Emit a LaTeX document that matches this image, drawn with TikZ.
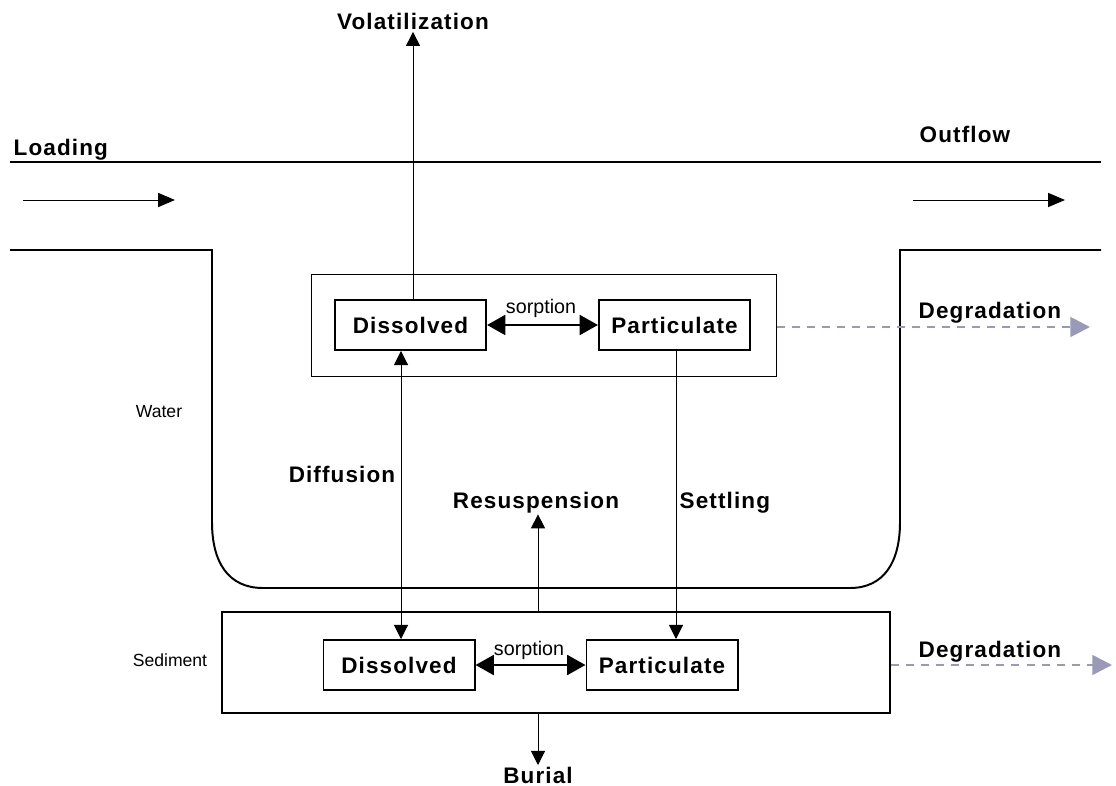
\documentclass[tikz,border=0pt]{standalone}
\usepackage{fontspec}
\setmainfont{Liberation Sans}
\newfontfamily\labelfont{Liberation Sans}[LetterSpace=5]
\usepackage{tikz}
\usetikzlibrary{arrows.meta}
\usepackage{xcolor}
\definecolor{deggray}{HTML}{9A9AB8}

\begin{document}
\begin{tikzpicture}[x=0.025cm, y=-0.025cm,
    every node/.style={inner sep=1pt},
    lbl/.style={font=\labelfont\bfseries\fontsize{16}{19}\selectfont},
    small/.style={font=\fontsize{12.5}{15}\selectfont},
    comp/.style={draw, line width=1.4pt, minimum width=3.775cm, minimum height=1.25cm, inner sep=0pt, lbl},
    flux/.style={line width=0.7pt, -{Triangle[length=10pt, width=10pt]}},
    sorp/.style={line width=2pt, {Triangle[length=13pt, width=14pt]}-{Triangle[length=13pt, width=14pt]}},
    deg/.style={deggray, line width=2pt, dash pattern=on 5.7pt off 5pt, -{Triangle[length=14pt, width=14pt]}}]
            \useasboundingbox (0,0) rectangle (1116,786);
            % channel
            \draw[line width=1.4pt] (10,162) -- (1101,162);
            \draw[line width=1.4pt] (10,250) -- (212,250) -- (212,522) .. controls (212,562) and (228,588) .. (263,588)
                -- (850,588) .. controls (884,588) and (900,562) .. (900,522) -- (900,250) -- (1101,250);
            \node[lbl, anchor=base west] (load) at (12,156) {Loading};
            \node[lbl, anchor=base west] (out) at (918,143) {Outflow};
            \coordinate (l0) at (23,200);
            \coordinate (l1) at (175,200);
            \coordinate (o0) at (913,200);
            \coordinate (o1) at (1065,200);
            \draw[flux, -{Triangle[length=12pt, width=10pt]}] (l0) -- (l1);
            \draw[flux, -{Triangle[length=12pt, width=10pt]}] (o0) -- (o1);
            % water
            \node[draw, line width=0.7pt, minimum width=11.6cm, minimum height=2.525cm] (wbox) at (544,325.5) {};
            \node[comp] (wdis) at (410.5,325) {Dissolved};
            \node[comp] (wpart) at (674.5,325) {Particulate};
            \node[font=\fontsize{14}{17}\selectfont, anchor=base] (wsorp) at (541,314) {sorption};
            \draw[sorp] (wdis) -- (wpart);
            \node[small, anchor=base] (water) at (159,417) {Water};
            \node[lbl, anchor=base] (vol) at (413,30) {Volatilization};
            \draw[flux] (wdis.north -| vol.south) -- (vol.south);
            \node[lbl, anchor=base west] (wdegl) at (917,319) {Degradation};
            \coordinate (wdeg) at (1090,327);
            \draw[deg] (wbox.east |- wdeg) -- (wdeg);
            % sediment
            \node[draw, line width=1.4pt, minimum width=16.7cm, minimum height=2.525cm] (sbox) at (556,662.5) {};
            \node[comp] (sdis) at (399,665) {Dissolved};
            \node[comp] (spart) at (662,665) {Particulate};
            \node[font=\fontsize{14}{17}\selectfont, anchor=base] (ssorp) at (529,655) {sorption};
            \draw[sorp] (sdis) -- (spart);
            \node[small, anchor=base] (sed) at (170,666) {Sediment};
            \node[lbl, anchor=base west] (sdegl) at (917,657) {Degradation};
            \coordinate (sdeg) at (1112,665);
            \draw[deg] (sbox.east |- sdeg) -- (sdeg);
            % exchange
            \node[lbl, anchor=base] (diff) at (342,482) {Diffusion};
            \node[lbl, anchor=base] (resus) at (536,508) {Resuspension};
            \node[lbl, anchor=base west] (settl) at (678,508) {Settling};
            \node[lbl, anchor=base] (bur) at (538,783) {Burial};
            \coordinate (dx) at (401,0);
            \coordinate (sx) at (676,0);
            \coordinate (rx) at (538,0);
            \draw[flux, {Triangle[length=10pt, width=10pt]}-{Triangle[length=10pt, width=10pt]}] (wdis.south -| dx) -- (sdis.north -| dx);
            \draw[flux] (wpart.south -| sx) -- (spart.north -| sx);
            \draw[flux] (sbox.north -| rx) -- (resus.south -| rx);
            \draw[flux] (sbox.south -| rx) -- (bur.north -| rx);
        \end{tikzpicture}
\end{document}
